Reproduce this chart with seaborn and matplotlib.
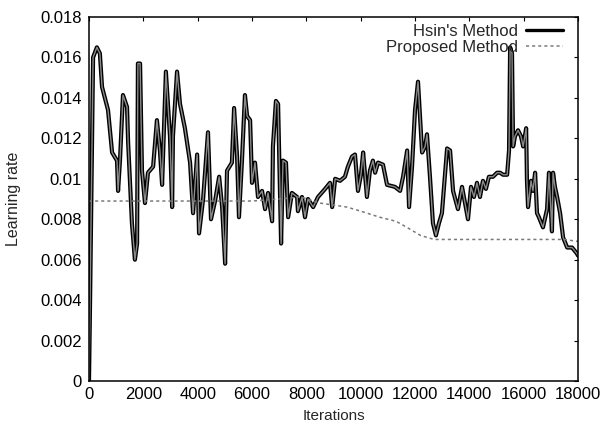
import matplotlib
matplotlib.use("Agg")
import matplotlib.pyplot as plt
import seaborn as sns
import pandas as pd

# Hsin's Method
hsin_iter = [0, 40, 150, 290, 400, 480, 700, 850, 1030, 1070, 1140, 1250, 1400, 1440,
             1580, 1690, 1770, 1800, 1880, 1950, 2060, 2170, 2360, 2500, 2610, 2690,
             2830, 2910, 2980, 3060, 3090, 3240, 3350, 3530, 3720, 3830, 3980, 4050,
             4200, 4380, 4490, 4640, 4790, 4900, 5010, 5080, 5260, 5340, 5450, 5520,
             5630, 5740, 5820, 5930, 6000, 6110, 6220, 6370, 6480, 6590, 6740, 6770,
             6880, 6960, 7070, 7140, 7250, 7330, 7470, 7660, 7690, 7840, 7950, 8060,
             8250, 8430, 8690, 8870, 8950, 9060, 9240, 9420, 9530, 9680, 9790, 9900,
             10010, 10090, 10230, 10340, 10450, 10530, 10640, 10820, 10970, 11260,
             11450, 11560, 11710, 11780, 11890, 12000, 12110, 12260, 12370, 12440,
             12550, 12660, 12770, 12880, 12990, 13180, 13290, 13400, 13580, 13730,
             13840, 13950, 14060, 14170, 14280, 14390, 14500, 14610, 14720, 14870,
             15020, 15130, 15240, 15390, 15460, 15500, 15570, 15610, 15680, 15790,
             15900, 15980, 16090, 16120, 16160, 16270, 16340, 16420, 16490, 16560,
             16710, 16860, 16930, 17040, 17080, 17150, 17230, 17340, 17450, 17600,
             17780, 17960, 18000]
hsin_rate = [0.0000, 0.0040, 0.0160, 0.0165, 0.0162, 0.01454, 0.0134, 0.0113, 0.0109,
             0.0094, 0.0109, 0.01414, 0.01355, 0.0118, 0.0078, 0.0060, 0.0068, 0.0157,
             0.0157, 0.0104, 0.0088, 0.0103, 0.0106, 0.0129, 0.0114, 0.0097, 0.0153,
             0.01355, 0.0121, 0.0086, 0.0121, 0.0153, 0.0137, 0.0125, 0.0108, 0.0083,
             0.0112, 0.0073, 0.0090, 0.0123, 0.0080, 0.0089, 0.0101, 0.0086, 0.0058,
             0.0104, 0.0108, 0.0135, 0.0111, 0.0081, 0.0109, 0.01414, 0.0131, 0.0129,
             0.0098, 0.0108, 0.0091, 0.0094, 0.0085, 0.0093, 0.0079, 0.0116, 0.01385,
             0.0137, 0.0068, 0.0109, 0.0108, 0.0081, 0.0093, 0.0091, 0.0084, 0.0091,
             0.0081, 0.0090, 0.0086, 0.0091, 0.0095, 0.0098, 0.0086, 0.0100, 0.0099,
             0.0101, 0.0106, 0.0111, 0.0112, 0.0094, 0.0102, 0.0113, 0.0091, 0.0104,
             0.0109, 0.0103, 0.0108, 0.0107, 0.0097, 0.0096, 0.0094, 0.0101, 0.0114,
             0.0086, 0.0106, 0.0134, 0.0148, 0.0113, 0.0116, 0.0122, 0.0101, 0.0078,
             0.0072, 0.0078, 0.0083, 0.0115, 0.0114, 0.0094, 0.0085, 0.0096, 0.0088,
             0.0080, 0.0096, 0.0091, 0.0098, 0.0091, 0.0099, 0.0095, 0.0101, 0.0101,
             0.0103, 0.0103, 0.0102, 0.0102, 0.0114, 0.0165, 0.0162, 0.0116, 0.0121,
             0.0124, 0.0121, 0.0116, 0.0125, 0.0099, 0.0086, 0.0099, 0.0094, 0.0103,
             0.0083, 0.0081, 0.0076, 0.0085, 0.0103, 0.0074, 0.0103, 0.0096, 0.0091,
             0.0083, 0.0071, 0.0066, 0.0066, 0.0063, 0.0062]

# Proposed Method
prop_iter = [0, 2000, 4000, 6000, 7000, 7800, 8500, 9500, 10000, 10700, 11300,
             11700, 12200, 12700, 14000, 16000, 17500, 18000]
prop_rate = [0.0089, 0.0089, 0.0089, 0.0089, 0.0090, 0.0091, 0.0088, 0.0086, 0.0084,
             0.0081, 0.0079, 0.0076, 0.0072, 0.0070, 0.0070, 0.0070, 0.0070, 0.0069]

xticks = [0, 2000, 4000, 6000, 8000, 10000, 12000, 14000, 16000, 18000]
yticks = [0, 0.002, 0.004, 0.006, 0.008, 0.01, 0.012, 0.014, 0.016, 0.018]
ytick_labels = ["0", "0.002", "0.004", "0.006", "0.008", "0.01", "0.012", "0.014", "0.016", "0.018"]

sns.set_style("white")
plt.rcParams['font.family'] = ['Liberation Sans', 'DejaVu Sans']

df_h = pd.DataFrame({"Iterations": hsin_iter, "rate": hsin_rate})
df_p = pd.DataFrame({"Iterations": prop_iter, "rate": prop_rate})

fig = plt.figure(figsize=(6.03, 4.34), dpi=100)
ax = fig.add_axes([0.1476, 0.1221, 0.811, 0.8387])

sns.lineplot(data=df_h, x="Iterations", y="rate", ax=ax, color="black", lw=3.0,
             label="Hsin's Method", estimator=None, sort=False)
sns.lineplot(data=df_h, x="Iterations", y="rate", ax=ax, color="#8a8a8a", lw=1.0,
             estimator=None, sort=False, legend=False)
sns.lineplot(data=df_p, x="Iterations", y="rate", ax=ax, color="#7a7a7a", lw=1.1,
             linestyle=(0, (2, 2)), label="Proposed Method", estimator=None, sort=False)

ax.set_xlim(0, 18000)
ax.set_ylim(0, 0.018)
ax.set_xticks(xticks)
ax.set_xticklabels([str(t) for t in xticks])
ax.set_yticks(yticks)
ax.set_yticklabels(ytick_labels)
ax.tick_params(axis="both", which="both", direction="in", length=3, width=0.8,
               labelsize=12, top=True, right=True, colors="black")
ax.tick_params(axis="x", pad=4)
ax.tick_params(axis="y", pad=5)
for s in ax.spines.values():
    s.set_color("black")
    s.set_linewidth(1.1)
ax.set_xlabel("Iterations", fontsize=11, labelpad=5)
ax.set_ylabel("Learning rate", fontsize=11.5, labelpad=14)

leg = ax.legend(loc="upper right", frameon=False, markerfirst=False, fontsize=12,
                handlelength=2.2, handletextpad=0.5, labelspacing=0.05,
                borderaxespad=0.0, borderpad=0.0, bbox_to_anchor=(0.969, 0.981))
leg.get_lines()[0].set_linewidth(2.4)

fig.savefig("out.png", dpi=100)
